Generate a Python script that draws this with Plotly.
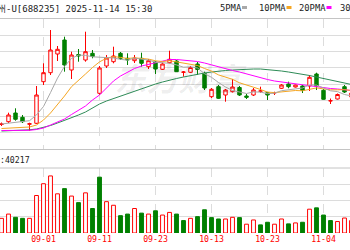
import plotly.graph_objects as go

# ---------------- data ----------------
dates = ["2025-08-22", "2025-08-25", "2025-08-26", "2025-08-27", "2025-08-28", "2025-08-29",
         "2025-09-01", "2025-09-02", "2025-09-03", "2025-09-04", "2025-09-05", "2025-09-08",
         "2025-09-09", "2025-09-10", "2025-09-11", "2025-09-12", "2025-09-15", "2025-09-16",
         "2025-09-17", "2025-09-18", "2025-09-19", "2025-09-22", "2025-09-23", "2025-09-24",
         "2025-09-25", "2025-09-26", "2025-09-29", "2025-09-30", "2025-10-09", "2025-10-10",
         "2025-10-13", "2025-10-14", "2025-10-15", "2025-10-16", "2025-10-17", "2025-10-20",
         "2025-10-21", "2025-10-22", "2025-10-23", "2025-10-24", "2025-10-27", "2025-10-28",
         "2025-10-29", "2025-10-30", "2025-10-31", "2025-11-03", "2025-11-04", "2025-11-05",
         "2025-11-06", "2025-11-07", "2025-11-10"]

open_p = [225.5, 228.3, 237, 232.7, 225.7, 226.7, 268.3, 277.3, 296, 310, 280, 295.5, 290, 296.7,
          256.7, 284, 288.3, 296.7, 291.7, 289.3, 291.7, 283.3, 288, 280.7, 287.3, 289, 277.7,
          277.7, 286, 276.7, 253.3, 263.3, 255, 258.3, 262.5, 254, 255, 258.8, 257.3, 257.1,
          261.7, 266, 263, 264, 264, 276, 259.7, 249, 251, 263.3, 253]
high_p = [227.5, 237.3, 241.7, 235, 227.3, 264, 286.7, 320, 304, 313.3, 298.3, 301, 318.3, 300,
          284, 295, 303.3, 298, 296.7, 295, 297.3, 291, 289, 287.5, 299.3, 290, 279, 284, 288,
          278.3, 262, 265, 261, 271, 264, 256, 262, 263.3, 258, 258.3, 266, 268.3, 265.5, 265,
          275, 277.3, 261, 251.5, 256.5, 265, 258]
low_p = [224, 227, 229.3, 227, 219.3, 226, 265, 275, 289, 278.3, 271, 288.3, 288.3, 291.7, 255,
         282, 286.7, 290, 285, 287, 283.3, 281, 276, 280, 286.5, 278, 273.3, 277, 275, 260, 252,
         251, 248.3, 257.5, 254, 251, 254, 257.3, 250, 255, 261, 261.7, 262.5, 257, 259, 260,
         250.5, 246, 250.5, 257, 252]
close_p = [226, 235, 230.7, 228.3, 226.3, 255, 277.3, 300, 300.7, 285, 295, 294, 298.3, 293.5,
           282, 292, 294, 291.7, 290, 292, 286.7, 289.3, 281, 286, 290.7, 278.3, 278, 282.5,
           280.5, 262, 260.7, 251.7, 260, 263, 255, 252.7, 260, 259, 255, 257.3, 265, 263.3, 265,
           259.5, 272.7, 264, 250.7, 249.3, 255.5, 258, 257]

ma5 = [226, 227, 228, 228.5, 229.3, 235.1, 243.5, 257.4, 271.9, 283.6, 291.6, 294.9, 294.6,
       293.2, 292.6, 292, 292, 290.6, 289.9, 291.9, 290.9, 289.9, 287.8, 287, 286.7, 285.1,
       282.8, 283.1, 282, 276.3, 272.7, 267.5, 263, 259.5, 258.1, 256.5, 258.1, 257.9, 256.3,
       256.8, 259.3, 259.9, 261.1, 262, 265.1, 264.9, 262.4, 259.2, 258.4, 255.5, 254.1]
ma10 = [221.5, 222, 222.5, 223, 223, 225, 230, 237, 245, 254, 263.3, 269.2, 276, 282.5, 288.1,
        291.8, 293.4, 292.6, 291.5, 292.2, 291.4, 290.9, 289.2, 288.5, 289.3, 288, 286.4, 285.4,
        284.5, 281.5, 278.9, 275.1, 273, 270.7, 267.2, 264.6, 262.8, 260.5, 257.9, 257.4, 257.9,
        259, 259.5, 259.2, 260.9, 262.1, 261.1, 260.2, 260.2, 260.3, 259.5]
ma20 = [219.5, 219.5, 219.5, 219.5, 219.7, 220.5, 222, 225, 228, 231, 235.5, 240, 244, 250, 255,
        262, 269, 274, 278, 281.5, 284, 285.5, 287, 289, 290.5, 290.5, 290, 289.5, 288.5, 287,
        285, 283, 281, 279.5, 278, 276, 274, 272, 270.5, 269, 268, 267, 266, 265, 264, 263.5,
        262.5, 261.5, 261, 260, 259.5]
ma30 = [219, 219.2, 219.5, 219.8, 220.2, 221, 222.5, 224.5, 227, 229.5, 232, 235, 238, 242, 246,
        249, 251.5, 254, 256.5, 259, 261.5, 264, 266, 268, 270, 271.5, 273, 274.5, 276, 277, 278,
        279, 279.5, 280, 280.5, 281, 281, 281, 280.5, 280, 279, 278, 277, 276, 274.5, 273, 271.5,
        270, 268.5, 267, 265.5]

volume = [33300, 42900, 35600, 33300, 33300, 85100, 111800, 129500, 88900, 100700,
          83800, 68900, 91100, 55600, 126700, 71100, 62900, 39300, 42900, 55600,
          45100, 42900, 50400, 40700, 46700, 42900, 28200, 33300, 37100, 52700,
          34900, 31800, 31800, 35600, 34900, 20000, 29600, 18400, 24400, 20000,
          31800, 20700, 22900, 24400, 54000, 57100, 40700, 28200, 26000, 34000, 28200]
vol_up = [1, 1, 0, 0, 1, 1, 1, 1, 1, 0, 1, 0, 1, 0, 0, 1, 1, 0, 0, 1, 0, 1, 0, 1, 1, 0, 0, 1,
          0, 0, 0, 0, 1, 1, 0, 1, 1, 0, 0, 1, 1, 0, 1, 0, 1, 0, 0, 0, 1, 1, 1]

tick_dates = ["2025-09-01", "2025-09-11", "2025-09-23", "2025-10-13", "2025-10-23", "2025-11-04"]
title_text = "百济神州-U[688235] 2025-11-14 15:30"
vol_text = "成交量:40217"
ma_names = ["5PMA", "10PMA", "20PMA", "30PMA"]
watermark = "东方财富"

# ---------------- figure ----------------
W, H = 350, 250
RED, GREEN = "#ff0000", "#008000"
MA_COLORS = ["#a8a8a8", "#f5a623", "#ff00ff", "#2e8b57"]
MONO = "DejaVu Sans Mono"
GRID = "#dcdcdc"
BORDER = "#c4c4c4"

def px(x):
    return x / W

def py(y):
    return 1 - y / H

xs = list(range(len(dates)))
tickvals = [dates.index(d) for d in tick_dates]
ticktext = [d[5:] for d in tick_dates]

fig = go.Figure()

# faint watermark, drawn first so it sits under the marks
fig.add_annotation  # (annotations draw on top, so a text trace is used instead)
fig.add_trace(go.Scatter(x=[25.3], y=[267], mode="text", text=["<b><i>" + watermark + "</i></b>"],
                         textfont=dict(size=32, color="rgba(0,0,0,0.075)", family="Noto Sans CJK SC"),
                         hoverinfo="skip", showlegend=False, xaxis="x", yaxis="y"))

for vals, col in zip([ma30, ma20, ma10, ma5], MA_COLORS[::-1]):
    fig.add_trace(go.Scatter(x=xs, y=vals, mode="lines", line=dict(color=col, width=1),
                             hoverinfo="skip", showlegend=False, xaxis="x", yaxis="y"))

fig.add_trace(go.Candlestick(
    x=xs, open=open_p, high=high_p, low=low_p, close=close_p,
    increasing=dict(line=dict(color=RED, width=1), fillcolor="white"),
    decreasing=dict(line=dict(color=GREEN, width=1), fillcolor=GREEN),
    whiskerwidth=0, showlegend=False, xaxis="x", yaxis="y"))

fig.add_trace(go.Bar(
    x=xs, y=volume, width=0.55,
    marker=dict(color=["white" if u else GREEN for u in vol_up],
                line=dict(color=[RED if u else GREEN for u in vol_up], width=1)),
    showlegend=False, xaxis="x2", yaxis="y2"))

x_range = [-1.5 / 7, 348.5 / 7]
vmax = 147500

fig.update_layout(
    width=W, height=H, margin=dict(l=0, r=0, t=0, b=0),
    paper_bgcolor="white", plot_bgcolor="white", showlegend=False,
    xaxis=dict(domain=[0, 1], range=x_range, anchor="y", tickvals=tickvals, showticklabels=False,
               showgrid=True, gridcolor=GRID, griddash="dash", gridwidth=1, zeroline=False,
               showline=True, mirror=True, linecolor=BORDER, linewidth=1,
               rangeslider=dict(visible=False), ticks=""),
    yaxis=dict(domain=[py(149), py(19)], range=[201, 331], tick0=201, dtick=16.25,
               showgrid=True, gridcolor=GRID, showticklabels=False, zeroline=False, ticks=""),
    xaxis2=dict(domain=[0, 1], range=x_range, anchor="y2", tickvals=tickvals, ticktext=ticktext,
                showgrid=True, gridcolor=GRID, griddash="dash", zeroline=False,
                showline=False, ticks="",
                tickfont=dict(family=MONO, size=8.2, color=RED)),
    yaxis2=dict(domain=[py(233), py(168)], range=[0, vmax],
                tickvals=[vmax / 4, vmax / 2, vmax * 3 / 4],
                showgrid=True, gridcolor=GRID, showticklabels=False, zeroline=False, ticks=""),
)

ann = []
ann.append(dict(x=px(153.5), y=py(9), xref="paper", yref="paper", xanchor="right", yanchor="middle",
                text=title_text, showarrow=False, font=dict(family=MONO, size=9.0, color="#222")))
ann.append(dict(x=px(31.5), y=py(160), xref="paper", yref="paper", xanchor="right", yanchor="middle",
                text=vol_text, showarrow=False, font=dict(family=MONO, size=8.2, color="#222")))
legend_x = [218, 257, 297, 338]
shapes = [dict(type="line", xref="paper", yref="paper", x0=0, x1=1, y0=py(168), y1=py(168),
               line=dict(color=BORDER, width=1))]
for name, lx, col in zip(ma_names, legend_x, MA_COLORS):
    ann.append(dict(x=px(lx), y=py(7.5), xref="paper", yref="paper", xanchor="left", yanchor="middle",
                    text=name, showarrow=False, font=dict(family=MONO, size=8.8, color="#222")))
    sx = lx + len(name) * 5.5 + 2
    shapes.append(dict(type="rect", xref="paper", yref="paper", x0=px(sx), x1=px(sx + 5),
                       y0=py(9), y1=py(6), fillcolor=col, line=dict(width=0)))
fig.update_layout(annotations=ann, shapes=shapes)

fig.write_html("out.html")
